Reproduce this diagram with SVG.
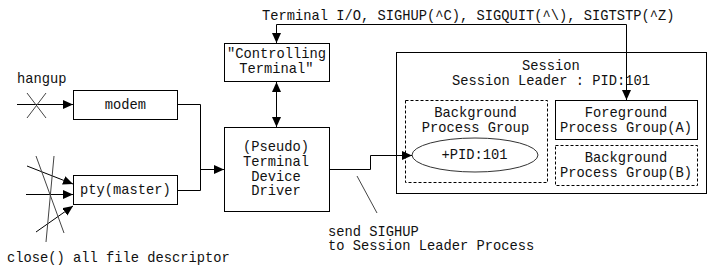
<svg xmlns="http://www.w3.org/2000/svg" width="717" height="280" viewBox="0 0 717 280">
  <style>
    text { font-family: "Liberation Mono", "Courier New", monospace; font-size: 13.75px; fill: #111; }
    .c { text-anchor: middle; }
    .box { fill: #fff; stroke: #000; stroke-width: 1; }
    .dash { fill: none; stroke: #000; stroke-width: 1; stroke-dasharray: 3 2; }
    .wire { fill: none; stroke: #000; stroke-width: 1; }
    .thin { fill: none; stroke: #444; stroke-width: 1; }
  </style>
  <defs>
    <marker id="arrow" markerUnits="userSpaceOnUse" markerWidth="11" markerHeight="10" refX="10" refY="4.5" orient="auto-start-reverse">
      <path d="M0,0 L10,4.5 L0,9 Z" fill="#000"/>
    </marker>
  </defs>

  <!-- free-standing labels -->
  <text x="262" y="19.5">Terminal I/O, SIGHUP(^C), SIGQUIT(^\), SIGTSTP(^Z)</text>
  <text x="17" y="82.5">hangup</text>
  <text x="7" y="261.5">close() all file descriptor</text>
  <text x="328" y="235.5">send SIGHUP</text>
  <text x="328" y="250">to Session Leader Process</text>

  <!-- session container -->
  <g id="session">
    <rect class="box" x="396.5" y="52.5" width="310" height="141"/>
    <text class="c" x="551" y="69.5">Session</text>
    <text class="c" x="551" y="84.5">Session Leader : PID:101</text>
  </g>

  <g id="controlling-terminal">
    <rect class="box" x="224.5" y="43.5" width="105" height="38"/>
    <text class="c" x="276.5" y="57.5">"Controlling</text>
    <text class="c" x="276.5" y="73">Terminal"</text>
  </g>

  <g id="modem">
    <rect class="box" x="73.5" y="90.5" width="104" height="29"/>
    <text class="c" x="125.5" y="108.5">modem</text>
  </g>

  <g id="pty-master">
    <rect class="box" x="73.5" y="175.5" width="104" height="29"/>
    <text class="c" x="125.5" y="194">pty(master)</text>
  </g>

  <g id="terminal-driver">
    <rect class="box" x="224.5" y="127.5" width="105" height="84"/>
    <text class="c" x="276" y="151">(Pseudo)</text>
    <text class="c" x="276" y="165.5">Terminal</text>
    <text class="c" x="276" y="180.5">Device</text>
    <text class="c" x="276" y="195">Driver</text>
  </g>

  <g id="background-group">
    <rect class="dash" x="405.5" y="100.5" width="142" height="82"/>
    <text class="c" x="475.5" y="116.5">Background</text>
    <text class="c" x="475.5" y="131.5">Process Group</text>
  </g>

  <g id="leader-pid">
    <ellipse cx="475" cy="155" rx="63" ry="17" fill="#fff" stroke="#333" stroke-width="1"/>
    <text class="c" x="474.5" y="158.5">+PID:101</text>
  </g>

  <g id="foreground-group-a">
    <rect class="box" x="555.5" y="100.5" width="142" height="39"/>
    <text class="c" x="626" y="116.5">Foreground</text>
    <text class="c" x="626" y="131.5">Process Group(A)</text>
  </g>

  <g id="background-group-b">
    <rect class="dash" x="555.5" y="145.5" width="142" height="40"/>
    <text class="c" x="626" y="161.5">Background</text>
    <text class="c" x="626" y="176.5">Process Group(B)</text>
  </g>

  <g id="connectors">
    <!-- terminal signals fan out to the controlling terminal and the foreground group -->
    <polyline class="wire" points="276.5,24.5 626.5,24.5 626.5,100" marker-end="url(#arrow)"/>
    <line class="wire" x1="276.5" y1="24.5" x2="276.5" y2="43" marker-end="url(#arrow)"/>
    <!-- controlling terminal <-> driver -->
    <line class="wire" x1="276.5" y1="82" x2="276.5" y2="127" marker-start="url(#arrow)" marker-end="url(#arrow)"/>
    <!-- modem / pty merge into the driver -->
    <polyline class="wire" points="177,104.5 200.5,104.5 200.5,190.5 177,190.5"/>
    <line class="wire" x1="200.5" y1="169.5" x2="224" y2="169.5" marker-end="url(#arrow)"/>
    <!-- driver to session leader -->
    <polyline class="wire" points="329,169.5 370.5,169.5 370.5,155.5 412,155.5" marker-end="url(#arrow)"/>
    <line class="thin" x1="357" y1="176" x2="377" y2="213"/>

    <!-- hangup input, cut -->
    <line class="wire" x1="17" y1="104.5" x2="73" y2="104.5" marker-end="url(#arrow)"/>
    <line class="thin" x1="27" y1="93" x2="46" y2="118"/>
    <line class="thin" x1="46" y1="93" x2="27" y2="118"/>

    <!-- descriptors into the pty, all closed -->
    <line class="wire" x1="27" y1="166" x2="73" y2="184" marker-end="url(#arrow)"/>
    <line class="wire" x1="26" y1="194.5" x2="73" y2="194.5" marker-end="url(#arrow)"/>
    <line class="wire" x1="36" y1="232" x2="73" y2="206" marker-end="url(#arrow)"/>
    <line class="thin" x1="36" y1="156" x2="64" y2="233"/>
    <line class="thin" x1="54" y1="156" x2="46" y2="242"/>
  </g>
</svg>
